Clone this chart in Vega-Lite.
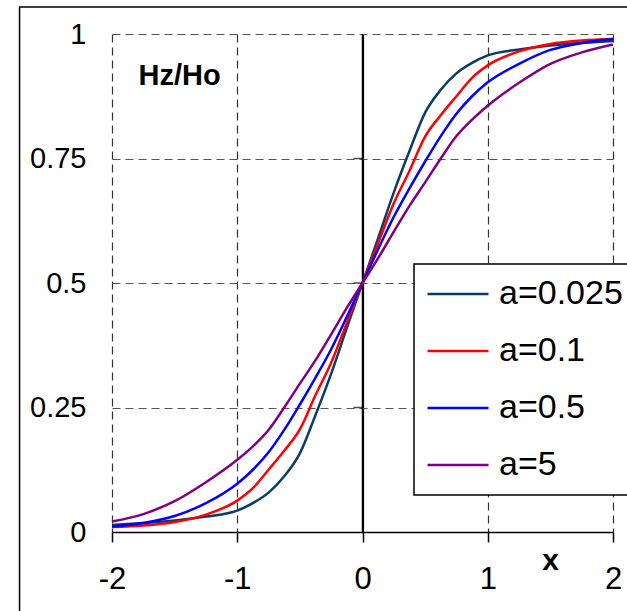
{
  "$schema": "https://vega.github.io/schema/vega-lite/v6.json",
  "width": 501,
  "height": 498,
  "autosize": {"type": "none"},
  "padding": {"left": 112, "top": 34, "right": 14, "bottom": 79},
  "background": "white",
  "config": {
    "view": {"stroke": null},
    "font": "Liberation Sans",
    "axis": {"labelFont": "Liberation Sans", "titleFont": "Liberation Sans", "labelColor": "black", "titleColor": "black"}
  },
  "datasets": {
    "curves": [
      {"x": -2, "y": 0.014, "a": "a=0.025"}, {"x": -1.75, "y": 0.018, "a": "a=0.025"}, {"x": -1.5, "y": 0.023, "a": "a=0.025"}, {"x": -1.25, "y": 0.031, "a": "a=0.025"}, {"x": -1, "y": 0.043, "a": "a=0.025"}, {"x": -0.875, "y": 0.058, "a": "a=0.025"}, {"x": -0.75, "y": 0.079, "a": "a=0.025"}, {"x": -0.625, "y": 0.112, "a": "a=0.025"}, {"x": -0.5, "y": 0.158, "a": "a=0.025"}, {"x": -0.375, "y": 0.235, "a": "a=0.025"}, {"x": -0.25, "y": 0.318, "a": "a=0.025"}, {"x": -0.125, "y": 0.41, "a": "a=0.025"}, {"x": 0, "y": 0.5, "a": "a=0.025"}, {"x": 0.125, "y": 0.59, "a": "a=0.025"}, {"x": 0.25, "y": 0.682, "a": "a=0.025"}, {"x": 0.375, "y": 0.765, "a": "a=0.025"}, {"x": 0.5, "y": 0.842, "a": "a=0.025"}, {"x": 0.625, "y": 0.888, "a": "a=0.025"}, {"x": 0.75, "y": 0.921, "a": "a=0.025"}, {"x": 0.875, "y": 0.942, "a": "a=0.025"}, {"x": 1, "y": 0.957, "a": "a=0.025"}, {"x": 1.25, "y": 0.969, "a": "a=0.025"}, {"x": 1.5, "y": 0.977, "a": "a=0.025"}, {"x": 1.75, "y": 0.982, "a": "a=0.025"}, {"x": 2, "y": 0.986, "a": "a=0.025"},
      {"x": -2, "y": 0.01, "a": "a=0.1"}, {"x": -1.75, "y": 0.013, "a": "a=0.1"}, {"x": -1.5, "y": 0.02, "a": "a=0.1"}, {"x": -1.25, "y": 0.035, "a": "a=0.1"}, {"x": -1, "y": 0.063, "a": "a=0.1"}, {"x": -0.875, "y": 0.088, "a": "a=0.1"}, {"x": -0.75, "y": 0.125, "a": "a=0.1"}, {"x": -0.625, "y": 0.163, "a": "a=0.1"}, {"x": -0.5, "y": 0.206, "a": "a=0.1"}, {"x": -0.375, "y": 0.275, "a": "a=0.1"}, {"x": -0.25, "y": 0.34, "a": "a=0.1"}, {"x": -0.125, "y": 0.42, "a": "a=0.1"}, {"x": 0, "y": 0.5, "a": "a=0.1"}, {"x": 0.125, "y": 0.58, "a": "a=0.1"}, {"x": 0.25, "y": 0.66, "a": "a=0.1"}, {"x": 0.375, "y": 0.725, "a": "a=0.1"}, {"x": 0.5, "y": 0.794, "a": "a=0.1"}, {"x": 0.625, "y": 0.837, "a": "a=0.1"}, {"x": 0.75, "y": 0.875, "a": "a=0.1"}, {"x": 0.875, "y": 0.912, "a": "a=0.1"}, {"x": 1, "y": 0.937, "a": "a=0.1"}, {"x": 1.25, "y": 0.965, "a": "a=0.1"}, {"x": 1.5, "y": 0.98, "a": "a=0.1"}, {"x": 1.75, "y": 0.987, "a": "a=0.1"}, {"x": 2, "y": 0.99, "a": "a=0.1"},
      {"x": -2, "y": 0.011, "a": "a=0.5"}, {"x": -1.75, "y": 0.018, "a": "a=0.5"}, {"x": -1.5, "y": 0.032, "a": "a=0.5"}, {"x": -1.25, "y": 0.058, "a": "a=0.5"}, {"x": -1, "y": 0.097, "a": "a=0.5"}, {"x": -0.875, "y": 0.125, "a": "a=0.5"}, {"x": -0.75, "y": 0.16, "a": "a=0.5"}, {"x": -0.625, "y": 0.205, "a": "a=0.5"}, {"x": -0.5, "y": 0.256, "a": "a=0.5"}, {"x": -0.375, "y": 0.31, "a": "a=0.5"}, {"x": -0.25, "y": 0.367, "a": "a=0.5"}, {"x": -0.125, "y": 0.432, "a": "a=0.5"}, {"x": 0, "y": 0.5, "a": "a=0.5"}, {"x": 0.125, "y": 0.568, "a": "a=0.5"}, {"x": 0.25, "y": 0.633, "a": "a=0.5"}, {"x": 0.375, "y": 0.69, "a": "a=0.5"}, {"x": 0.5, "y": 0.744, "a": "a=0.5"}, {"x": 0.625, "y": 0.795, "a": "a=0.5"}, {"x": 0.75, "y": 0.84, "a": "a=0.5"}, {"x": 0.875, "y": 0.875, "a": "a=0.5"}, {"x": 1, "y": 0.903, "a": "a=0.5"}, {"x": 1.25, "y": 0.94, "a": "a=0.5"}, {"x": 1.5, "y": 0.968, "a": "a=0.5"}, {"x": 1.75, "y": 0.982, "a": "a=0.5"}, {"x": 2, "y": 0.99, "a": "a=0.5"},
      {"x": -2, "y": 0.021, "a": "a=5"}, {"x": -1.75, "y": 0.036, "a": "a=5"}, {"x": -1.5, "y": 0.062, "a": "a=5"}, {"x": -1.25, "y": 0.1, "a": "a=5"}, {"x": -1, "y": 0.145, "a": "a=5"}, {"x": -0.875, "y": 0.172, "a": "a=5"}, {"x": -0.75, "y": 0.205, "a": "a=5"}, {"x": -0.625, "y": 0.25, "a": "a=5"}, {"x": -0.5, "y": 0.298, "a": "a=5"}, {"x": -0.375, "y": 0.345, "a": "a=5"}, {"x": -0.25, "y": 0.397, "a": "a=5"}, {"x": -0.125, "y": 0.45, "a": "a=5"}, {"x": 0, "y": 0.5, "a": "a=5"}, {"x": 0.125, "y": 0.55, "a": "a=5"}, {"x": 0.25, "y": 0.603, "a": "a=5"}, {"x": 0.375, "y": 0.655, "a": "a=5"}, {"x": 0.5, "y": 0.702, "a": "a=5"}, {"x": 0.625, "y": 0.75, "a": "a=5"}, {"x": 0.75, "y": 0.795, "a": "a=5"}, {"x": 0.875, "y": 0.828, "a": "a=5"}, {"x": 1, "y": 0.856, "a": "a=5"}, {"x": 1.25, "y": 0.902, "a": "a=5"}, {"x": 1.5, "y": 0.94, "a": "a=5"}, {"x": 1.75, "y": 0.963, "a": "a=5"}, {"x": 2, "y": 0.979, "a": "a=5"}
    ],
    "frame": [{"x1": -2.738, "x2": 2.5, "y1": 1.054, "y2": -0.3}],
    "zeroTicks": [{"x": 0, "y": 0.25}, {"x": 0, "y": 0.5}, {"x": 0, "y": 0.75}],
    "label": [{"x": -1.46, "y": 0.916, "text": "Hz/Ho"}]
  },
  "layer": [
    {
      "data": {"name": "frame"},
      "mark": {"type": "rect", "fill": null, "stroke": "black", "strokeWidth": 1.5, "clip": false},
      "encoding": {
        "x": {
          "field": "x1", "type": "quantitative",
          "scale": {"domain": [-2, 2], "nice": false, "zero": false},
          "axis": {
            "values": [-2, -1, 0, 1, 2],
            "labelExpr": "'' + datum.value",
            "labelFontSize": 31,
            "labelPadding": 22,
            "labelFlush": false,
            "tickSize": 10,
            "tickWidth": 1.5,
            "tickColor": "black",
            "domainColor": "black",
            "domainWidth": 1.5,
            "grid": true,
            "gridColor": {"condition": {"test": "datum.value === 0", "value": "black"}, "value": "#333"},
            "gridDash": {"condition": {"test": "datum.value === 0", "value": []}, "value": [8, 5]},
            "gridWidth": 1.2,
            "gridOpacity": 1,
            "title": "x",
            "titleFontSize": 30,
            "titleFontWeight": "bold",
            "titleAnchor": null,
            "titleAlign": "center",
            "titleBaseline": "middle",
            "titleX": 438,
            "titleY": 28
          }
        },
        "x2": {"field": "x2"},
        "y": {
          "field": "y1", "type": "quantitative",
          "scale": {"domain": [0, 1], "nice": false},
          "axis": {
            "values": [0, 0.25, 0.5, 0.75, 1],
            "labelExpr": "'' + datum.value",
            "labelFontSize": 29,
            "labelPadding": 26,
            "labelFlush": false,
            "ticks": false,
            "domain": false,
            "grid": true,
            "gridColor": "#555",
            "gridDash": [8, 5],
            "gridWidth": 1.2,
            "gridOpacity": 1,
            "title": null
          }
        },
        "y2": {"field": "y2"}
      }
    },
    {
      "data": {"values": [{"x": 0}]},
      "mark": {"type": "rule", "color": "black", "strokeWidth": 1.5},
      "encoding": {
        "x": {"field": "x", "type": "quantitative"},
        "y": {"datum": 0, "type": "quantitative"},
        "y2": {"datum": 1}
      }
    },
    {
      "data": {"name": "zeroTicks"},
      "mark": {"type": "tick", "orient": "horizontal", "size": 9, "thickness": 1.5, "color": "black", "xOffset": -4.5},
      "encoding": {
        "x": {"field": "x", "type": "quantitative"},
        "y": {"field": "y", "type": "quantitative"}
      }
    },
    {
      "data": {"name": "curves"},
      "mark": {"type": "line", "strokeWidth": 2.5, "clip": false, "interpolate": "monotone"},
      "encoding": {
        "x": {"field": "x", "type": "quantitative"},
        "y": {"field": "y", "type": "quantitative"},
        "color": {
          "field": "a", "type": "nominal",
          "scale": {"domain": ["a=0.025", "a=0.1", "a=0.5", "a=5"], "range": ["#0b3c66", "#ff0000", "#0000ff", "#800080"]},
          "legend": {
            "title": null,
            "orient": "none",
            "legendX": 302,
            "legendY": 230,
            "direction": "vertical",
            "symbolType": "stroke",
            "symbolSize": 3721,
            "symbolStrokeWidth": 2.5,
            "labelFontSize": 34,
            "labelFont": "Liberation Sans",
            "labelColor": "black",
            "labelOffset": 9,
            "clipHeight": 36,
            "rowPadding": 21,
            "padding": 12,
            "fillColor": "white",
            "strokeColor": "black",
            "encode": {"legend": {"update": {"strokeWidth": {"value": 1.5}}}}
          }
        }
      }
    },
    {
      "data": {"name": "label"},
      "mark": {"type": "text", "fontSize": 29, "fontWeight": "bold", "font": "Liberation Sans", "align": "center", "baseline": "middle", "color": "black"},
      "encoding": {
        "x": {"field": "x", "type": "quantitative"},
        "y": {"field": "y", "type": "quantitative"},
        "text": {"field": "text"}
      }
    }
  ]
}
